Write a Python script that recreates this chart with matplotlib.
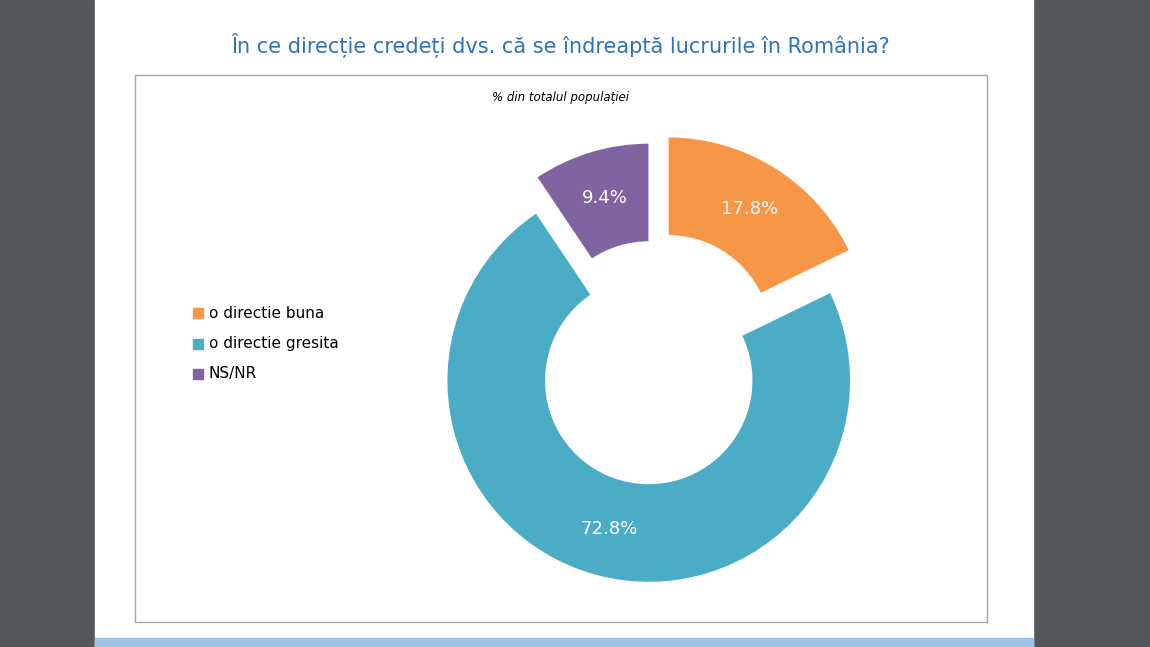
import matplotlib
matplotlib.use("Agg")
import matplotlib.pyplot as plt
from matplotlib.patches import Rectangle

labels = ["o directie buna", "o directie gresita", "NS/NR"]
values = [17.8, 72.8, 9.4]
colors = ["#f79646", "#4bacc6", "#8064a2"]
explode = [0.13, 0.10, 0.083]

W, H = 1150, 647
fig = plt.figure(figsize=(W/100, H/100), dpi=100)
fig.patch.set_facecolor("#54585b")
fig.add_artist(Rectangle((95/W, 0), (1033-95)/W, 1, transform=fig.transFigure, color="white", zorder=0))
fig.add_artist(Rectangle((95/W, 0), (1033-95)/W, 9/H, transform=fig.transFigure, color="#9dc3e6", zorder=1))
fig.add_artist(Rectangle((135/W, 1-622/H), (987-135)/W, (622-75)/H, transform=fig.transFigure,
                         fill=False, edgecolor="#a6a6a6", lw=1, zorder=1))
fig.text(560/W, 1-45/H, "În ce direcție credeți dvs. că se îndreaptă lucrurile în România?",
         ha="center", va="center", fontsize=15, color="#2e74b5", family="DejaVu Sans")
fig.text(560/W, 1-98/H, "% din totalul populației", ha="center", va="center",
         fontsize=8.5, style="italic", color="black")

cx, cy, r = 654, 361, 202
s = 2*r*1.3
ax = fig.add_axes([(cx-s/2)/W, (H-cy-s/2)/H, s/W, s/H])
wedges, texts, autotexts = ax.pie(values, colors=colors, explode=explode, startangle=90,
       counterclock=False, radius=1, wedgeprops=dict(width=0.49, edgecolor="white", linewidth=1),
       autopct=lambda p: f"{p:.1f}%", pctdistance=0.76,
       textprops=dict(color="white", fontsize=13))
for t, v in zip(autotexts, values):
    t.set_text(f"{v:.1f}%")
ax.set_xlim(-1.3, 1.3); ax.set_ylim(-1.3, 1.3)
ax.set_aspect("equal"); ax.axis("off")

for i, (lab, c) in enumerate(zip(labels, colors)):
    y = 1-(313+30.5*i)/H
    fig.add_artist(Rectangle((193/W, y-5/H), 10/W, 10/H, transform=fig.transFigure, color=c))
    fig.text(209/W, y, lab, va="center", ha="left", fontsize=11, color="black")

fig.savefig("out.png", dpi=100)
